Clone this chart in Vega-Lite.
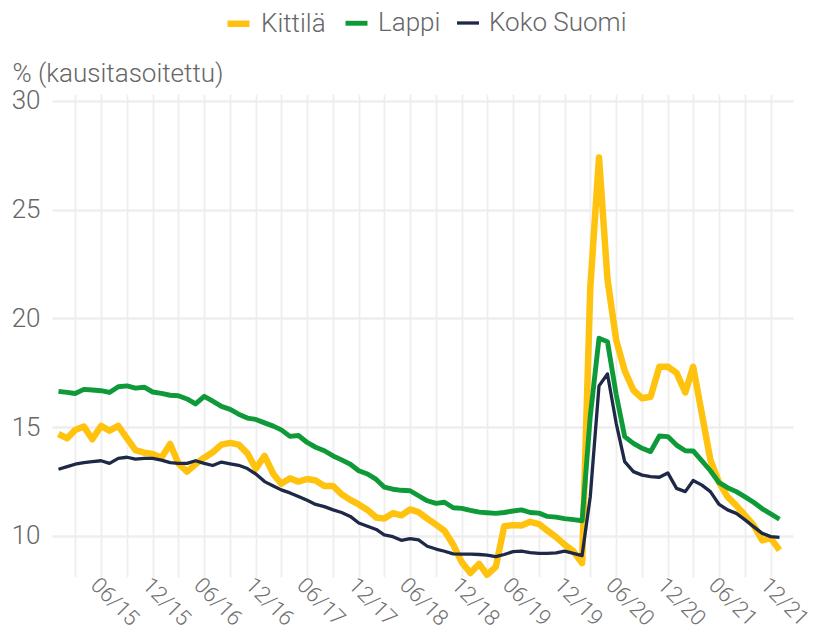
{
  "$schema": "https://vega.github.io/schema/vega-lite/v6.json",
  "autosize": {"type": "none"},
  "padding": {"left": 52, "top": 94, "right": 20, "bottom": 58},
  "width": 741,
  "height": 483,
  "config": {
    "font": "Roboto",
    "view": {"stroke": null},
    "axis": {"labelFont": "Roboto", "titleFont": "Roboto", "labelFontWeight": 300, "titleFontWeight": 300}
  },
  "data": {"values": [
    {"d":"2015-01-01T00:00","s":"Kittilä","v":14.69},{"d":"2015-02-01T00:00","s":"Kittilä","v":14.49},{"d":"2015-03-01T00:00","s":"Kittilä","v":14.87},{"d":"2015-04-01T00:00","s":"Kittilä","v":15.03},{"d":"2015-05-01T00:00","s":"Kittilä","v":14.45},{"d":"2015-06-01T00:00","s":"Kittilä","v":15.06},{"d":"2015-07-01T00:00","s":"Kittilä","v":14.84},{"d":"2015-08-01T00:00","s":"Kittilä","v":15.06},{"d":"2015-09-01T00:00","s":"Kittilä","v":14.49},{"d":"2015-10-01T00:00","s":"Kittilä","v":13.95},{"d":"2015-11-01T00:00","s":"Kittilä","v":13.83},{"d":"2015-12-01T00:00","s":"Kittilä","v":13.77},
    {"d":"2016-01-01T00:00","s":"Kittilä","v":13.6},{"d":"2016-02-01T00:00","s":"Kittilä","v":14.23},{"d":"2016-03-01T00:00","s":"Kittilä","v":13.34},{"d":"2016-04-01T00:00","s":"Kittilä","v":12.96},{"d":"2016-05-01T00:00","s":"Kittilä","v":13.3},{"d":"2016-06-01T00:00","s":"Kittilä","v":13.6},{"d":"2016-07-01T00:00","s":"Kittilä","v":13.85},{"d":"2016-08-01T00:00","s":"Kittilä","v":14.2},{"d":"2016-09-01T00:00","s":"Kittilä","v":14.28},{"d":"2016-10-01T00:00","s":"Kittilä","v":14.2},{"d":"2016-11-01T00:00","s":"Kittilä","v":13.8},{"d":"2016-12-01T00:00","s":"Kittilä","v":13.1},
    {"d":"2017-01-01T00:00","s":"Kittilä","v":13.68},{"d":"2017-02-01T00:00","s":"Kittilä","v":12.85},{"d":"2017-03-01T00:00","s":"Kittilä","v":12.4},{"d":"2017-04-01T00:00","s":"Kittilä","v":12.65},{"d":"2017-05-01T00:00","s":"Kittilä","v":12.5},{"d":"2017-06-01T00:00","s":"Kittilä","v":12.62},{"d":"2017-07-01T00:00","s":"Kittilä","v":12.55},{"d":"2017-08-01T00:00","s":"Kittilä","v":12.3},{"d":"2017-09-01T00:00","s":"Kittilä","v":12.3},{"d":"2017-10-01T00:00","s":"Kittilä","v":11.92},{"d":"2017-11-01T00:00","s":"Kittilä","v":11.66},{"d":"2017-12-01T00:00","s":"Kittilä","v":11.45},
    {"d":"2018-01-01T00:00","s":"Kittilä","v":11.2},{"d":"2018-02-01T00:00","s":"Kittilä","v":10.85},{"d":"2018-03-01T00:00","s":"Kittilä","v":10.8},{"d":"2018-04-01T00:00","s":"Kittilä","v":11.05},{"d":"2018-05-01T00:00","s":"Kittilä","v":10.95},{"d":"2018-06-01T00:00","s":"Kittilä","v":11.22},{"d":"2018-07-01T00:00","s":"Kittilä","v":11.1},{"d":"2018-08-01T00:00","s":"Kittilä","v":10.8},{"d":"2018-09-01T00:00","s":"Kittilä","v":10.52},{"d":"2018-10-01T00:00","s":"Kittilä","v":10.24},{"d":"2018-11-01T00:00","s":"Kittilä","v":9.6},{"d":"2018-12-01T00:00","s":"Kittilä","v":8.8},
    {"d":"2019-01-01T00:00","s":"Kittilä","v":8.3},{"d":"2019-02-01T00:00","s":"Kittilä","v":8.72},{"d":"2019-03-01T00:00","s":"Kittilä","v":8.22},{"d":"2019-04-01T00:00","s":"Kittilä","v":8.58},{"d":"2019-05-01T00:00","s":"Kittilä","v":10.45},{"d":"2019-06-01T00:00","s":"Kittilä","v":10.5},{"d":"2019-07-01T00:00","s":"Kittilä","v":10.48},{"d":"2019-08-01T00:00","s":"Kittilä","v":10.65},{"d":"2019-09-01T00:00","s":"Kittilä","v":10.55},{"d":"2019-10-01T00:00","s":"Kittilä","v":10.25},{"d":"2019-11-01T00:00","s":"Kittilä","v":9.95},{"d":"2019-12-01T00:00","s":"Kittilä","v":9.6},
    {"d":"2020-01-01T00:00","s":"Kittilä","v":9.3},{"d":"2020-02-01T00:00","s":"Kittilä","v":8.75},{"d":"2020-03-01T00:00","s":"Kittilä","v":21.4},{"d":"2020-04-01T00:00","s":"Kittilä","v":27.4},{"d":"2020-05-01T00:00","s":"Kittilä","v":21.8},{"d":"2020-06-01T00:00","s":"Kittilä","v":19.0},{"d":"2020-07-01T00:00","s":"Kittilä","v":17.6},{"d":"2020-08-01T00:00","s":"Kittilä","v":16.7},{"d":"2020-09-01T00:00","s":"Kittilä","v":16.33},{"d":"2020-10-01T00:00","s":"Kittilä","v":16.4},{"d":"2020-11-01T00:00","s":"Kittilä","v":17.78},{"d":"2020-12-01T00:00","s":"Kittilä","v":17.78},
    {"d":"2021-01-01T00:00","s":"Kittilä","v":17.5},{"d":"2021-02-01T00:00","s":"Kittilä","v":16.6},{"d":"2021-03-01T00:00","s":"Kittilä","v":17.78},{"d":"2021-04-01T00:00","s":"Kittilä","v":15.6},{"d":"2021-05-01T00:00","s":"Kittilä","v":13.5},{"d":"2021-06-01T00:00","s":"Kittilä","v":12.45},{"d":"2021-07-01T00:00","s":"Kittilä","v":11.8},{"d":"2021-08-01T00:00","s":"Kittilä","v":11.4},{"d":"2021-09-01T00:00","s":"Kittilä","v":10.95},{"d":"2021-10-01T00:00","s":"Kittilä","v":10.5},{"d":"2021-11-01T00:00","s":"Kittilä","v":9.8},{"d":"2021-12-01T00:00","s":"Kittilä","v":9.9},
    {"d":"2022-01-01T00:00","s":"Kittilä","v":9.35},

    {"d":"2015-01-01T00:00","s":"Lappi","v":16.65},{"d":"2015-02-01T00:00","s":"Lappi","v":16.6},{"d":"2015-03-01T00:00","s":"Lappi","v":16.55},{"d":"2015-04-01T00:00","s":"Lappi","v":16.74},{"d":"2015-05-01T00:00","s":"Lappi","v":16.71},{"d":"2015-06-01T00:00","s":"Lappi","v":16.68},{"d":"2015-07-01T00:00","s":"Lappi","v":16.6},{"d":"2015-08-01T00:00","s":"Lappi","v":16.86},{"d":"2015-09-01T00:00","s":"Lappi","v":16.9},{"d":"2015-10-01T00:00","s":"Lappi","v":16.8},{"d":"2015-11-01T00:00","s":"Lappi","v":16.84},{"d":"2015-12-01T00:00","s":"Lappi","v":16.62},
    {"d":"2016-01-01T00:00","s":"Lappi","v":16.56},{"d":"2016-02-01T00:00","s":"Lappi","v":16.47},{"d":"2016-03-01T00:00","s":"Lappi","v":16.45},{"d":"2016-04-01T00:00","s":"Lappi","v":16.3},{"d":"2016-05-01T00:00","s":"Lappi","v":16.07},{"d":"2016-06-01T00:00","s":"Lappi","v":16.42},{"d":"2016-07-01T00:00","s":"Lappi","v":16.2},{"d":"2016-08-01T00:00","s":"Lappi","v":15.96},{"d":"2016-09-01T00:00","s":"Lappi","v":15.82},{"d":"2016-10-01T00:00","s":"Lappi","v":15.6},{"d":"2016-11-01T00:00","s":"Lappi","v":15.42},{"d":"2016-12-01T00:00","s":"Lappi","v":15.36},
    {"d":"2017-01-01T00:00","s":"Lappi","v":15.2},{"d":"2017-02-01T00:00","s":"Lappi","v":15.05},{"d":"2017-03-01T00:00","s":"Lappi","v":14.88},{"d":"2017-04-01T00:00","s":"Lappi","v":14.58},{"d":"2017-05-01T00:00","s":"Lappi","v":14.62},{"d":"2017-06-01T00:00","s":"Lappi","v":14.3},{"d":"2017-07-01T00:00","s":"Lappi","v":14.08},{"d":"2017-08-01T00:00","s":"Lappi","v":13.92},{"d":"2017-09-01T00:00","s":"Lappi","v":13.68},{"d":"2017-10-01T00:00","s":"Lappi","v":13.5},{"d":"2017-11-01T00:00","s":"Lappi","v":13.3},{"d":"2017-12-01T00:00","s":"Lappi","v":13.0},
    {"d":"2018-01-01T00:00","s":"Lappi","v":12.85},{"d":"2018-02-01T00:00","s":"Lappi","v":12.6},{"d":"2018-03-01T00:00","s":"Lappi","v":12.25},{"d":"2018-04-01T00:00","s":"Lappi","v":12.15},{"d":"2018-05-01T00:00","s":"Lappi","v":12.1},{"d":"2018-06-01T00:00","s":"Lappi","v":12.08},{"d":"2018-07-01T00:00","s":"Lappi","v":11.85},{"d":"2018-08-01T00:00","s":"Lappi","v":11.62},{"d":"2018-09-01T00:00","s":"Lappi","v":11.5},{"d":"2018-10-01T00:00","s":"Lappi","v":11.55},{"d":"2018-11-01T00:00","s":"Lappi","v":11.3},{"d":"2018-12-01T00:00","s":"Lappi","v":11.27},
    {"d":"2019-01-01T00:00","s":"Lappi","v":11.18},{"d":"2019-02-01T00:00","s":"Lappi","v":11.1},{"d":"2019-03-01T00:00","s":"Lappi","v":11.07},{"d":"2019-04-01T00:00","s":"Lappi","v":11.04},{"d":"2019-05-01T00:00","s":"Lappi","v":11.08},{"d":"2019-06-01T00:00","s":"Lappi","v":11.15},{"d":"2019-07-01T00:00","s":"Lappi","v":11.2},{"d":"2019-08-01T00:00","s":"Lappi","v":11.08},{"d":"2019-09-01T00:00","s":"Lappi","v":11.05},{"d":"2019-10-01T00:00","s":"Lappi","v":10.9},{"d":"2019-11-01T00:00","s":"Lappi","v":10.87},{"d":"2019-12-01T00:00","s":"Lappi","v":10.8},
    {"d":"2020-01-01T00:00","s":"Lappi","v":10.75},{"d":"2020-02-01T00:00","s":"Lappi","v":10.7},{"d":"2020-03-01T00:00","s":"Lappi","v":15.5},{"d":"2020-04-01T00:00","s":"Lappi","v":19.09},{"d":"2020-05-01T00:00","s":"Lappi","v":18.93},{"d":"2020-06-01T00:00","s":"Lappi","v":16.5},{"d":"2020-07-01T00:00","s":"Lappi","v":14.57},{"d":"2020-08-01T00:00","s":"Lappi","v":14.26},{"d":"2020-09-01T00:00","s":"Lappi","v":14.03},{"d":"2020-10-01T00:00","s":"Lappi","v":13.88},{"d":"2020-11-01T00:00","s":"Lappi","v":14.6},{"d":"2020-12-01T00:00","s":"Lappi","v":14.57},
    {"d":"2021-01-01T00:00","s":"Lappi","v":14.18},{"d":"2021-02-01T00:00","s":"Lappi","v":13.92},{"d":"2021-03-01T00:00","s":"Lappi","v":13.91},{"d":"2021-04-01T00:00","s":"Lappi","v":13.45},{"d":"2021-05-01T00:00","s":"Lappi","v":13.0},{"d":"2021-06-01T00:00","s":"Lappi","v":12.45},{"d":"2021-07-01T00:00","s":"Lappi","v":12.22},{"d":"2021-08-01T00:00","s":"Lappi","v":12.04},{"d":"2021-09-01T00:00","s":"Lappi","v":11.8},{"d":"2021-10-01T00:00","s":"Lappi","v":11.55},{"d":"2021-11-01T00:00","s":"Lappi","v":11.25},{"d":"2021-12-01T00:00","s":"Lappi","v":11.02},
    {"d":"2022-01-01T00:00","s":"Lappi","v":10.77},

    {"d":"2015-01-01T00:00","s":"Koko Suomi","v":13.07},{"d":"2015-02-01T00:00","s":"Koko Suomi","v":13.19},{"d":"2015-03-01T00:00","s":"Koko Suomi","v":13.3},{"d":"2015-04-01T00:00","s":"Koko Suomi","v":13.37},{"d":"2015-05-01T00:00","s":"Koko Suomi","v":13.42},{"d":"2015-06-01T00:00","s":"Koko Suomi","v":13.46},{"d":"2015-07-01T00:00","s":"Koko Suomi","v":13.34},{"d":"2015-08-01T00:00","s":"Koko Suomi","v":13.57},{"d":"2015-09-01T00:00","s":"Koko Suomi","v":13.62},{"d":"2015-10-01T00:00","s":"Koko Suomi","v":13.53},{"d":"2015-11-01T00:00","s":"Koko Suomi","v":13.57},{"d":"2015-12-01T00:00","s":"Koko Suomi","v":13.57},
    {"d":"2016-01-01T00:00","s":"Koko Suomi","v":13.49},{"d":"2016-02-01T00:00","s":"Koko Suomi","v":13.37},{"d":"2016-03-01T00:00","s":"Koko Suomi","v":13.34},{"d":"2016-04-01T00:00","s":"Koko Suomi","v":13.34},{"d":"2016-05-01T00:00","s":"Koko Suomi","v":13.46},{"d":"2016-06-01T00:00","s":"Koko Suomi","v":13.34},{"d":"2016-07-01T00:00","s":"Koko Suomi","v":13.24},{"d":"2016-08-01T00:00","s":"Koko Suomi","v":13.4},{"d":"2016-09-01T00:00","s":"Koko Suomi","v":13.32},{"d":"2016-10-01T00:00","s":"Koko Suomi","v":13.25},{"d":"2016-11-01T00:00","s":"Koko Suomi","v":13.1},{"d":"2016-12-01T00:00","s":"Koko Suomi","v":12.85},
    {"d":"2017-01-01T00:00","s":"Koko Suomi","v":12.5},{"d":"2017-02-01T00:00","s":"Koko Suomi","v":12.3},{"d":"2017-03-01T00:00","s":"Koko Suomi","v":12.12},{"d":"2017-04-01T00:00","s":"Koko Suomi","v":11.98},{"d":"2017-05-01T00:00","s":"Koko Suomi","v":11.82},{"d":"2017-06-01T00:00","s":"Koko Suomi","v":11.64},{"d":"2017-07-01T00:00","s":"Koko Suomi","v":11.45},{"d":"2017-08-01T00:00","s":"Koko Suomi","v":11.35},{"d":"2017-09-01T00:00","s":"Koko Suomi","v":11.2},{"d":"2017-10-01T00:00","s":"Koko Suomi","v":11.08},{"d":"2017-11-01T00:00","s":"Koko Suomi","v":10.9},{"d":"2017-12-01T00:00","s":"Koko Suomi","v":10.6},
    {"d":"2018-01-01T00:00","s":"Koko Suomi","v":10.45},{"d":"2018-02-01T00:00","s":"Koko Suomi","v":10.3},{"d":"2018-03-01T00:00","s":"Koko Suomi","v":10.05},{"d":"2018-04-01T00:00","s":"Koko Suomi","v":9.97},{"d":"2018-05-01T00:00","s":"Koko Suomi","v":9.8},{"d":"2018-06-01T00:00","s":"Koko Suomi","v":9.88},{"d":"2018-07-01T00:00","s":"Koko Suomi","v":9.82},{"d":"2018-08-01T00:00","s":"Koko Suomi","v":9.53},{"d":"2018-09-01T00:00","s":"Koko Suomi","v":9.4},{"d":"2018-10-01T00:00","s":"Koko Suomi","v":9.3},{"d":"2018-11-01T00:00","s":"Koko Suomi","v":9.18},{"d":"2018-12-01T00:00","s":"Koko Suomi","v":9.17},
    {"d":"2019-01-01T00:00","s":"Koko Suomi","v":9.17},{"d":"2019-02-01T00:00","s":"Koko Suomi","v":9.15},{"d":"2019-03-01T00:00","s":"Koko Suomi","v":9.12},{"d":"2019-04-01T00:00","s":"Koko Suomi","v":9.05},{"d":"2019-05-01T00:00","s":"Koko Suomi","v":9.15},{"d":"2019-06-01T00:00","s":"Koko Suomi","v":9.28},{"d":"2019-07-01T00:00","s":"Koko Suomi","v":9.3},{"d":"2019-08-01T00:00","s":"Koko Suomi","v":9.24},{"d":"2019-09-01T00:00","s":"Koko Suomi","v":9.2},{"d":"2019-10-01T00:00","s":"Koko Suomi","v":9.2},{"d":"2019-11-01T00:00","s":"Koko Suomi","v":9.22},{"d":"2019-12-01T00:00","s":"Koko Suomi","v":9.3},
    {"d":"2020-01-01T00:00","s":"Koko Suomi","v":9.2},{"d":"2020-02-01T00:00","s":"Koko Suomi","v":9.1},{"d":"2020-03-01T00:00","s":"Koko Suomi","v":11.81},{"d":"2020-04-01T00:00","s":"Koko Suomi","v":16.9},{"d":"2020-05-01T00:00","s":"Koko Suomi","v":17.45},{"d":"2020-06-01T00:00","s":"Koko Suomi","v":15.18},{"d":"2020-07-01T00:00","s":"Koko Suomi","v":13.42},{"d":"2020-08-01T00:00","s":"Koko Suomi","v":12.96},{"d":"2020-09-01T00:00","s":"Koko Suomi","v":12.8},{"d":"2020-10-01T00:00","s":"Koko Suomi","v":12.73},{"d":"2020-11-01T00:00","s":"Koko Suomi","v":12.7},{"d":"2020-12-01T00:00","s":"Koko Suomi","v":12.9},
    {"d":"2021-01-01T00:00","s":"Koko Suomi","v":12.19},{"d":"2021-02-01T00:00","s":"Koko Suomi","v":12.04},{"d":"2021-03-01T00:00","s":"Koko Suomi","v":12.55},{"d":"2021-04-01T00:00","s":"Koko Suomi","v":12.34},{"d":"2021-05-01T00:00","s":"Koko Suomi","v":12.04},{"d":"2021-06-01T00:00","s":"Koko Suomi","v":11.45},{"d":"2021-07-01T00:00","s":"Koko Suomi","v":11.2},{"d":"2021-08-01T00:00","s":"Koko Suomi","v":11.04},{"d":"2021-09-01T00:00","s":"Koko Suomi","v":10.74},{"d":"2021-10-01T00:00","s":"Koko Suomi","v":10.43},{"d":"2021-11-01T00:00","s":"Koko Suomi","v":10.12},{"d":"2021-12-01T00:00","s":"Koko Suomi","v":9.97},
    {"d":"2022-01-01T00:00","s":"Koko Suomi","v":9.94}
  ]},
  "mark": {"type": "line", "strokeJoin": "round", "strokeCap": "butt"},
  "encoding": {
    "x": {
      "field": "d", "type": "temporal",
      "scale": {"domain": [{"year": 2014, "month": 12, "date": 9}, {"year": 2022, "month": 2, "date": 18}]},
      "axis": {
        "title": null,
        "values": [
          {"year":2015,"month":3,"date":1},{"year":2015,"month":6,"date":1},{"year":2015,"month":9,"date":1},{"year":2015,"month":12,"date":1},
          {"year":2016,"month":3,"date":1},{"year":2016,"month":6,"date":1},{"year":2016,"month":9,"date":1},{"year":2016,"month":12,"date":1},
          {"year":2017,"month":3,"date":1},{"year":2017,"month":6,"date":1},{"year":2017,"month":9,"date":1},{"year":2017,"month":12,"date":1},
          {"year":2018,"month":3,"date":1},{"year":2018,"month":6,"date":1},{"year":2018,"month":9,"date":1},{"year":2018,"month":12,"date":1},
          {"year":2019,"month":3,"date":1},{"year":2019,"month":6,"date":1},{"year":2019,"month":9,"date":1},{"year":2019,"month":12,"date":1},
          {"year":2020,"month":3,"date":1},{"year":2020,"month":6,"date":1},{"year":2020,"month":9,"date":1},{"year":2020,"month":12,"date":1},
          {"year":2021,"month":3,"date":1},{"year":2021,"month":6,"date":1},{"year":2021,"month":9,"date":1},{"year":2021,"month":12,"date":1}
        ],
        "labelExpr": "month(datum.value) % 6 == 5 ? timeFormat(datum.value, '%m/%y') : ''",
        "labelAngle": 45,
        "labelAlign": "left",
        "labelBaseline": "top",
        "labelPadding": -3,
        "labelFontSize": 22,
        "labelColor": "#707070",
        "labelOverlap": false,
        "labelFlush": false,
        "ticks": false,
        "domain": false,
        "gridColor": "#eeeeee",
        "gridWidth": 1.8
      }
    },
    "y": {
      "field": "v", "type": "quantitative",
      "scale": {"domain": [8.115, 30.32], "nice": false, "zero": false},
      "axis": {
        "values": [10, 15, 20, 25, 30],
        "title": "% (kausitasoitettu)",
        "titleAngle": 0,
        "titleAlign": "left",
        "titleBaseline": "alphabetic",
        "titleX": -40,
        "titleY": -13,
        "titleFontSize": 26,
        "titleColor": "#666666",
        "labelFontSize": 26,
        "labelColor": "#666666",
        "labelPadding": 12,
        "ticks": false,
        "domain": false,
        "gridColor": "#eeeeee",
        "gridWidth": 2.6
      }
    },
    "color": {
      "field": "s", "type": "nominal",
      "scale": {"domain": ["Kittilä", "Lappi", "Koko Suomi"], "range": ["#FFC20E", "#0F9A3A", "#1E2847"]},
      "legend": {
        "title": null,
        "orient": "none",
        "direction": "horizontal",
        "legendX": 172,
        "legendY": -85,
        "padding": 0,
        "symbolType": "stroke",
        "symbolStrokeWidth": 7,
        "symbolSize": 484,
        "labelFontSize": 26,
        "labelFontWeight": 300,
        "labelFont": "Roboto",
        "labelColor": "#666666",
        "labelOffset": 8,
        "columnPadding": 9
      }
    },
    "strokeWidth": {
      "field": "s", "type": "nominal",
      "scale": {"domain": ["Kittilä", "Lappi", "Koko Suomi"], "range": [6.5, 3.3, 3.3]},
      "legend": null
    }
  }
}
